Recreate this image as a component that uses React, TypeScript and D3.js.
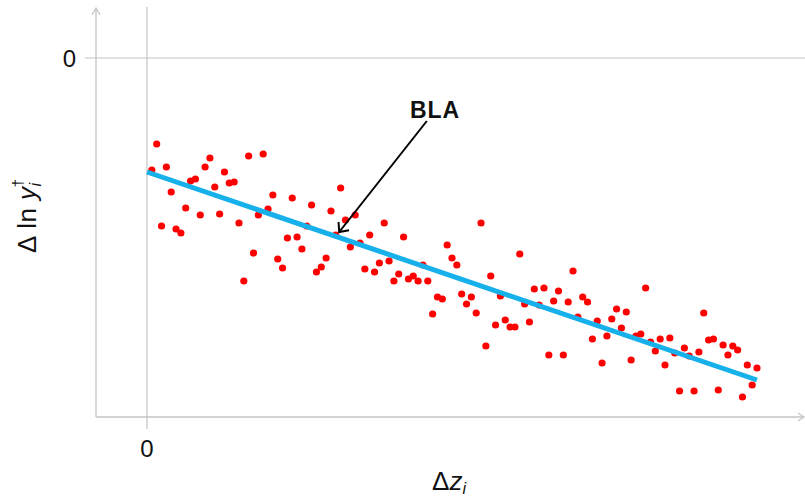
import React from "react";
import * as d3 from "d3";

// Observed Δ ln y (one value per evenly spaced Δz position 1..126)
const yValues: number[] = [
  -11.2, -8.6, -16.8, -10.9, -13.4, -17.1, -17.5, -15.0, -12.3, -12.1,
  -15.7, -10.9, -10.0, -12.9, -15.6, -11.4, -12.5, -12.4, -16.5, -22.3,
  -9.8, -19.5, -15.7, -9.6, -15.1, -13.7, -20.1, -21.0, -18.0, -14.0,
  -17.9, -19.1, -16.8, -14.7, -21.4, -20.9, -20.0, -15.3, -17.7, -13.0,
  -16.2, -18.9, -15.7, -18.5, -21.1, -17.7, -21.4, -20.5, -16.5, -20.3,
  -22.3, -21.6, -17.9, -22.1, -21.8, -22.3, -20.7, -22.3, -25.6, -23.9,
  -24.1, -18.7, -20.0, -20.7, -23.6, -24.6, -23.9, -25.5, -16.5, -28.8,
  -21.8, -26.7, -23.8, -26.2, -26.9, -26.9, -19.6, -24.6, -26.4, -23.1,
  -24.7, -23.0, -29.7, -24.3, -23.3, -29.7, -24.4, -21.3, -25.9, -23.9,
  -24.4, -28.1, -26.3, -30.5, -27.8, -26.1, -25.1, -27.0, -25.4, -30.2,
  -27.8, -27.6, -23.0, -28.4, -29.3, -28.1, -30.7, -28.0, -29.5, -33.3,
  -29.0, -29.8, -33.3, -29.4, -25.5, -28.2, -28.1, -33.2, -28.7, -29.7,
  -28.8, -29.2, -33.9, -30.7, -32.7, -31.0,
];

// Best linear approximation (BLA) endpoints
const lineX: number[] = [0, 126];
const lineY: number[] = [-11.4, -32.2];

// Axis ticks
const xTicks: number[] = [0];
const yTicks: number[] = [0];
const xTickLabels: string[] = ["0"];
const yTickLabels: string[] = ["0"];

// Annotation (data units)
const annTip: [number, number] = [39.7, -17.4];
const annTail: [number, number] = [57.8, -6.3];
const annLabel = "BLA";

const W = 805;
const H = 499;

export default function App() {
  const x = d3.scaleLinear().domain([0, 126]).range([147, 757]);
  const y = d3.scaleLinear().domain([0, -35.9]).range([58, 417]);

  const axisLeft = 96;
  const axisBottom = 417;
  const axisRight = 805;
  const axisTop = 8;
  const gray = "#c4c4c4";

  const line = d3
    .line<number>()
    .x((_, i) => x(lineX[i]))
    .y((d) => y(d));

  // arrowhead
  const tx = x(annTip[0]);
  const ty = y(annTip[1]);
  const sx = x(annTail[0]);
  const sy = y(annTail[1]);
  const ang = Math.atan2(sy - ty, sx - tx);
  const headLen = 10;
  const spread = (42 * Math.PI) / 180;
  const a1 = [tx + headLen * Math.cos(ang + spread), ty + headLen * Math.sin(ang + spread)];
  const a2 = [tx + headLen * Math.cos(ang - spread), ty + headLen * Math.sin(ang - spread)];

  const font = "'Liberation Sans', 'DejaVu Sans', sans-serif";

  return (
    <svg
      width={W}
      height={H}
      style={{ position: "absolute", left: 0, top: 0, background: "#fff" }}
      fontFamily={font}
    >
      {/* gridlines at zero */}
      {xTicks.map((t) => (
        <line key={"gx" + t} x1={x(t)} x2={x(t)} y1={axisTop - 1} y2={axisBottom + 12} stroke={gray} strokeWidth={1.2} />
      ))}
      {yTicks.map((t) => (
        <line key={"gy" + t} x1={axisLeft - 11} x2={axisRight} y1={y(t)} y2={y(t)} stroke={gray} strokeWidth={1.2} />
      ))}

      {/* axes */}
      <line x1={axisLeft} x2={axisLeft} y1={axisBottom} y2={axisTop} stroke={gray} strokeWidth={1.3} />
      <polyline
        points={`${axisLeft - 4},${axisTop + 7} ${axisLeft},${axisTop} ${axisLeft + 4},${axisTop + 7}`}
        fill="none"
        stroke={gray}
        strokeWidth={1.3}
      />
      <line x1={axisLeft} x2={axisRight - 1} y1={axisBottom} y2={axisBottom} stroke={gray} strokeWidth={1.3} />
      <polyline
        points={`${axisRight - 7},${axisBottom - 4} ${axisRight - 1},${axisBottom} ${axisRight - 7},${axisBottom + 4}`}
        fill="none"
        stroke={gray}
        strokeWidth={1.3}
      />

      {/* tick labels */}
      {xTicks.map((t, i) => (
        <text key={"xl" + t} x={x(t)} y={457} textAnchor="middle" fontSize={24} fill="#111">
          {xTickLabels[i]}
        </text>
      ))}
      {yTicks.map((t, i) => (
        <text key={"yl" + t} x={76} y={y(t) + 9} textAnchor="end" fontSize={24} fill="#111">
          {yTickLabels[i]}
        </text>
      ))}

      {/* points */}
      {yValues.map((v, i) => (
        <circle key={i} cx={x(i + 1)} cy={y(v)} r={3.6} fill="#ff0000" />
      ))}

      {/* BLA line */}
      <path d={line(lineY) || ""} fill="none" stroke="#16b1ea" strokeWidth={5} />

      {/* annotation */}
      <line x1={sx} y1={sy} x2={tx} y2={ty} stroke="#000" strokeWidth={2} />
      <polyline points={`${a1[0]},${a1[1]} ${tx},${ty} ${a2[0]},${a2[1]}`} fill="none" stroke="#000" strokeWidth={2} />
      <text x={x(59.5)} y={118} textAnchor="middle" fontSize={23} fontWeight="bold" letterSpacing={1} fill="#111">
        {annLabel}
      </text>

      {/* axis titles */}
      <text x={432} y={490} fontSize={26} fill="#111">
        Δ<tspan fontStyle="italic">z</tspan>
        <tspan fontStyle="italic" fontSize={16} dy={4}>i</tspan>
      </text>
      <text transform="translate(36,253) rotate(-90)" x={0} y={0} fontSize={26} letterSpacing={0.5} fill="#111">
        Δ ln <tspan fontStyle="italic">y</tspan>
        <tspan fontStyle="italic" fontSize={16} dy={5}>i</tspan>
        <tspan fontSize={15} dx={-5} dy={-18}>†</tspan>
      </text>
    </svg>
  );
}
